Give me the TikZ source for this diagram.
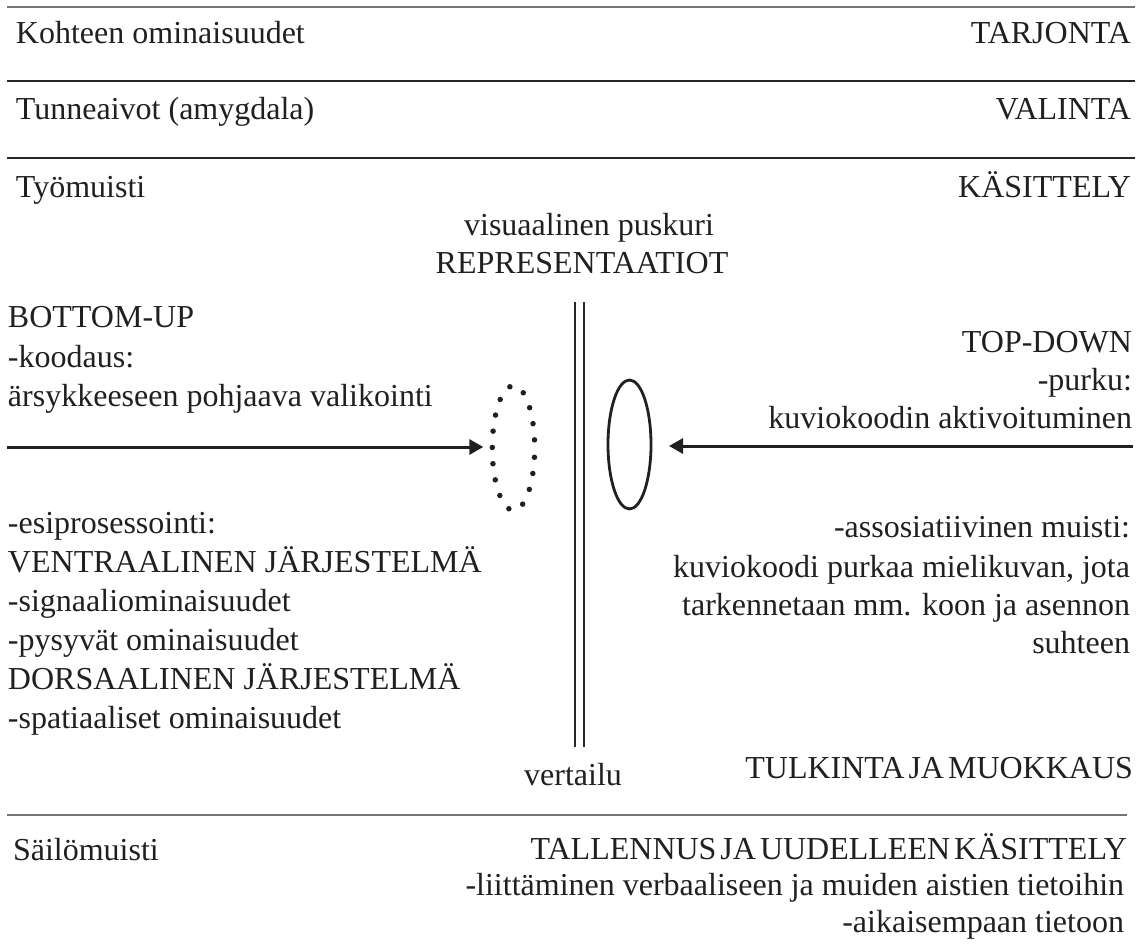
\documentclass[tikz,border=0pt]{standalone}
\usepackage{fontspec}
\setmainfont{Liberation Serif}
\newfontface\tightcaps{Liberation Serif}[WordSpace=0.5]
\usetikzlibrary{arrows.meta,shapes.geometric}
\definecolor{ink}{RGB}{35,31,32}
\begin{document}
\begin{tikzpicture}[x=1pt,y=-1pt,
  txt/.style={inner sep=0pt, outer sep=0pt, text=ink, font=\fontsize{32}{38}\selectfont},
  lt/.style={txt, anchor=base west},
  rt/.style={txt, anchor=base east},
  ct/.style={txt, anchor=base},
  tight/.style={font=\tightcaps\fontsize{32}{38}\selectfont},
  darkrule/.style={line width=1.5pt, draw=black!85},
  lightrule/.style={line width=1.5pt, draw=black!55},
  vrule/.style={line width=1.2pt, draw=black!85},
  bigarrow/.style={line width=3pt, draw=ink, -{Triangle[length=14pt,width=15pt]}},
  dotell/.style={ellipse, draw=ink, line width=5.5pt, line cap=round,
    dash pattern=on 0pt off 16.3pt, dash phase=8.15pt,
    minimum width=42.4pt, minimum height=124.6pt, inner sep=0pt, outer sep=0pt},
  solell/.style={ellipse, draw=ink, line width=2.8pt,
    minimum width=43pt, minimum height=129pt, inner sep=0pt, outer sep=0pt}
]
\useasboundingbox (0,0) rectangle (1148,950);

% horizontal rules
\coordinate (r1a) at (7,7);     \coordinate (r1b) at (1135,7);
\coordinate (r2a) at (7,81);    \coordinate (r2b) at (1135,81);
\coordinate (r3a) at (7,158);   \coordinate (r3b) at (1135,158);
\coordinate (r4a) at (7,815);   \coordinate (r4b) at (1127,815);
\draw[lightrule] (r1a) -- (r1b);
\draw[darkrule] (r2a) -- (r2b);
\draw[darkrule] (r3a) -- (r3b);
\draw[lightrule] (r4a) -- (r4b);

% header rows
\node[lt] (kohde) at (16,44) {Kohteen ominaisuudet};
\node[rt] (tarj) at (1131,44) {TARJONTA};
\node[lt] (tunne) at (16,119) {Tunneaivot (amygdala)};
\node[rt] (valin) at (1131,119) {VALINTA};
\node[lt] (tyom) at (16,197) {Työmuisti};
\node[rt] (kasit) at (1131,197) {KÄSITTELY};

% centre titles
\node[ct] (visu) at (589,235) {visuaalinen puskuri};
\node[ct] (repr) at (582,273) {REPRESENTAATIOT};

% double vertical line
\coordinate (v1a) at (575,302); \coordinate (v1b) at (575,747);
\coordinate (v2a) at (584,302); \coordinate (v2b) at (584,747);
\draw[vrule] (v1a) -- (v1b);
\draw[vrule] (v2a) -- (v2b);

% ellipses
\node[dotell] (dots) at (513.5,448) {};
\node[solell] (sol) at (629.5,444.5) {};

% arrows
\coordinate (lstart) at (7,447);
\coordinate (rstart) at (1133,446);
\draw[bigarrow, shorten >=9pt] (lstart) -- (lstart -| dots.west);
\draw[bigarrow, shorten >=18pt] (rstart) -- (rstart -| sol.east);

% left block
\node[lt] (bu) at (8,327) {BOTTOM-UP};
\node[lt] (kood) at (8,367) {-koodaus:};
\node[lt] (arsy) at (8,406) {ärsykkeeseen pohjaava valikointi};
\node[lt] (esip) at (8,533) {-esiprosessointi:};
\node[lt] (vent) at (8,572) {VENTRAALINEN JÄRJESTELMÄ};
\node[lt] (sign) at (8,611) {-signaaliominaisuudet};
\node[lt] (pysy) at (8,650) {-pysyvät ominaisuudet};
\node[lt] (dors) at (8,689) {DORSAALINEN JÄRJESTELMÄ};
\node[lt] (spat) at (8,728) {-spatiaaliset ominaisuudet};

% right block
\node[rt] (td) at (1132,352) {TOP-DOWN};
\node[rt] (purk) at (1132,390) {-purku:};
\node[rt] (kuvi) at (1132,428) {kuviokoodin aktivoituminen};
\node[rt] (asso) at (1130,537) {-assosiatiivinen muisti:};
\node[rt] (kuv2) at (1130,577) {kuviokoodi purkaa mielikuvan, jota};
\node[rt] (tark) at (1130,615) {tarkennetaan mm. koon ja asennon};
\node[rt] (suht) at (1130,653) {suhteen};
\node[rt, tight] (tulk) at (1133,778) {TULKINTA JA MUOKKAUS};
\node[ct] (vert) at (573,785) {vertailu};

% bottom row
\node[lt] (sailo) at (13,860) {Säilömuisti};
\node[rt, tight] (tall) at (1127,859) {TALLENNUS JA UUDELLEEN KÄSITTELY};
\node[rt] (liit) at (1124,895) {-liittäminen verbaaliseen ja muiden aistien tietoihin};
\node[rt] (aika) at (1124,932) {-aikaisempaan tietoon};
\end{tikzpicture}
\end{document}
